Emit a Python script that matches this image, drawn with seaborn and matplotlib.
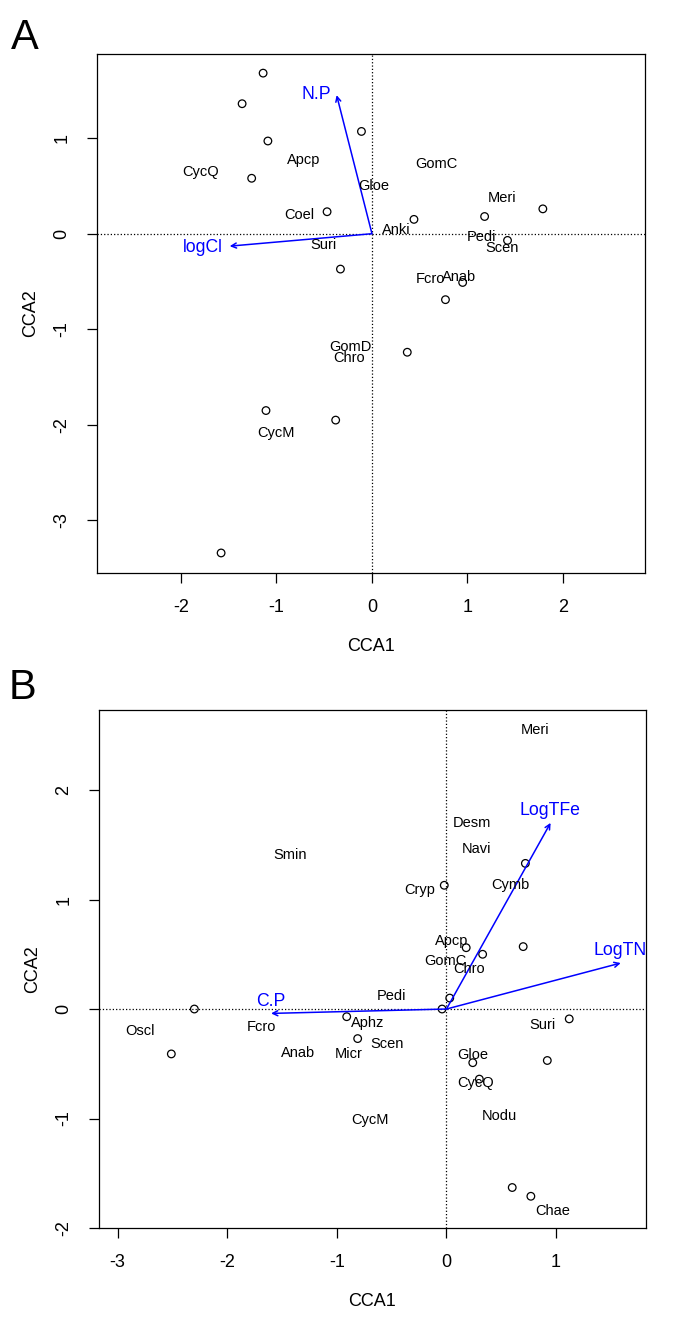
import numpy as np
import pandas as pd
import matplotlib
matplotlib.use('Agg')
import matplotlib.pyplot as plt
from matplotlib import font_manager
import seaborn as sns

# ---- panel A: site scores (circles), species labels, biplot arrows
a_site_x = [-1.14, -1.36, -0.11, -1.09, -1.26, -0.47, 0.44, 1.18, 1.79, 1.42,
            -0.33, 0.95, 0.77, 0.37, -1.11, -0.38, -1.58]
a_site_y = [1.68, 1.36, 1.07, 0.97, 0.58, 0.23, 0.15, 0.18, 0.26, -0.07,
            -0.37, -0.51, -0.69, -1.24, -1.85, -1.95, -3.34]
a_sp = ['CycQ', 'Apcp', 'GomC', 'Gloe', 'Meri', 'Coel', 'Anki', 'Pedi', 'Scen',
        'Suri', 'Fcro', 'Anab', 'GomD', 'Chro', 'CycM']
a_sp_x = [-1.80, -0.72, 0.67, 0.02, 1.36, -0.76, 0.26, 1.15, 1.36,
          -0.51, 0.61, 0.91, -0.23, -0.24, -1.01]
a_sp_y = [0.65, 0.77, 0.73, 0.50, 0.37, 0.20, 0.04, -0.03, -0.15,
          -0.12, -0.47, -0.45, -1.18, -1.30, -2.08]
a_env = ['N.P', 'logCl']
a_env_x = [-0.37, -1.49]
a_env_y = [1.45, -0.13]
a_env_lx = [-0.58, -1.77]
a_env_ly = [1.46, -0.14]

# ---- panel B
b_site_x = [-0.02, 0.72, 0.18, 0.33, 0.70, 0.03, -0.04, -2.30, -2.51, -0.91,
            -0.81, 1.12, 0.92, 0.24, 0.30, 0.60, 0.77]
b_site_y = [1.13, 1.33, 0.56, 0.50, 0.57, 0.10, 0.00, 0.00, -0.41, -0.07,
            -0.27, -0.09, -0.47, -0.49, -0.64, -1.63, -1.71]
b_sp = ['Meri', 'Desm', 'Navi', 'Smin', 'Cryp', 'Cymb', 'Apcp', 'GomC', 'Chro',
        'Pedi', 'Oscl', 'Fcro', 'Aphz', 'Scen', 'Anab', 'Micr', 'Suri', 'Gloe',
        'CycQ', 'Nodu', 'CycM', 'Chae']
b_sp_x = [0.81, 0.23, 0.27, -1.43, -0.24, 0.58, 0.05, -0.01, 0.21,
          -0.50, -2.80, -1.69, -0.72, -0.54, -1.35, -0.89, 0.88, 0.24,
          0.27, 0.48, -0.70, 0.97]
b_sp_y = [2.55, 1.70, 1.46, 1.41, 1.09, 1.13, 0.62, 0.44, 0.37,
          0.12, -0.20, -0.16, -0.13, -0.32, -0.40, -0.41, -0.15, -0.42,
          -0.68, -0.98, -1.01, -1.84]
b_env = ['LogTFe', 'LogTN', 'C.P']
b_env_x = [0.95, 1.59, -1.60]
b_env_y = [1.70, 0.42, -0.04]
b_env_lx = [0.94, 1.58, -1.60]
b_env_ly = [1.81, 0.53, 0.07]

sns.set_theme(style='ticks')
plt.rcParams['font.family'] = ['Liberation Sans', 'DejaVu Sans']
plt.rcParams['axes.linewidth'] = 0.9
for k in ['text.color', 'axes.labelcolor', 'xtick.color', 'ytick.color',
          'axes.edgecolor']:
    plt.rcParams[k] = 'black'

# narrow face for the panel letters, if present
names = {f.name for f in font_manager.fontManager.ttflist}
letter_fam = ['Liberation Sans Narrow'] if 'Liberation Sans Narrow' in names else []
letter_fam += ['Liberation Sans', 'DejaVu Sans']

fig = plt.figure(figsize=(6.85, 13.37), dpi=100)
axA = fig.add_axes([0.1416, 0.5714, 0.800, 0.3882])
axB = fig.add_axes([0.1445, 0.0815, 0.7985, 0.3874])


def panel(ax, sx, sy, sp, spx, spy, env, ex, ey, elx, ely, xlim, ylim, xt, yt):
    ax.axhline(0, color='black', ls=':', lw=0.9, zorder=1)
    ax.axvline(0, color='black', ls=':', lw=0.9, zorder=1)
    df = pd.DataFrame({'x': sx, 'y': sy})
    sns.scatterplot(data=df, x='x', y='y', ax=ax, s=30, marker='o',
                    facecolor='none', edgecolor='black', linewidth=0.9, zorder=3)
    for name, x, y in zip(sp, spx, spy):
        ax.text(x, y, name, fontsize=10.5, ha='center', va='center', zorder=4)
    for name, x, y, lx, ly in zip(env, ex, ey, elx, ely):
        ax.annotate('', xy=(x, y), xytext=(0, 0),
                    arrowprops=dict(arrowstyle='->', color='blue', lw=1.1,
                                    mutation_scale=9, shrinkA=0, shrinkB=0))
        ax.text(lx, ly, name, color='blue', fontsize=12.7, ha='center',
                va='center', clip_on=False)
    ax.set_xlim(*xlim)
    ax.set_ylim(*ylim)
    ax.set_xticks(xt)
    ax.set_yticks(yt)
    ax.set_xticklabels([str(v) for v in xt])
    ax.set_yticklabels([str(v) for v in yt], rotation=90, va='center')
    ax.tick_params(axis='both', length=7, width=0.9, labelsize=13, pad=12)
    for s in ax.spines.values():
        s.set_visible(True)
    ax.set_xlabel('CCA1', fontsize=13)
    ax.set_ylabel('CCA2', fontsize=13)
    ax.xaxis.set_label_coords(0.5, -0.125)
    ax.yaxis.set_label_coords(-0.106, 0.5)


panel(axA, a_site_x, a_site_y, a_sp, a_sp_x, a_sp_y, a_env, a_env_x, a_env_y,
      a_env_lx, a_env_ly, (-2.88, 2.86), (-3.55, 1.88),
      [-2, -1, 0, 1, 2], [-3, -2, -1, 0, 1])
panel(axB, b_site_x, b_site_y, b_sp, b_sp_x, b_sp_y, b_env, b_env_x, b_env_y,
      b_env_lx, b_env_ly, (-3.17, 1.82), (-2.0, 2.73),
      [-3, -2, -1, 0, 1], [-2, -1, 0, 1, 2])

fig.text(24.5 / 685, 1 - 38 / 1337, 'A', fontsize=30, ha='center',
         va='center', family=letter_fam)
fig.text(23 / 685, 1 - 688 / 1337, 'B', fontsize=30, ha='center',
         va='center', family=letter_fam)

fig.savefig('out.png', dpi=100)
